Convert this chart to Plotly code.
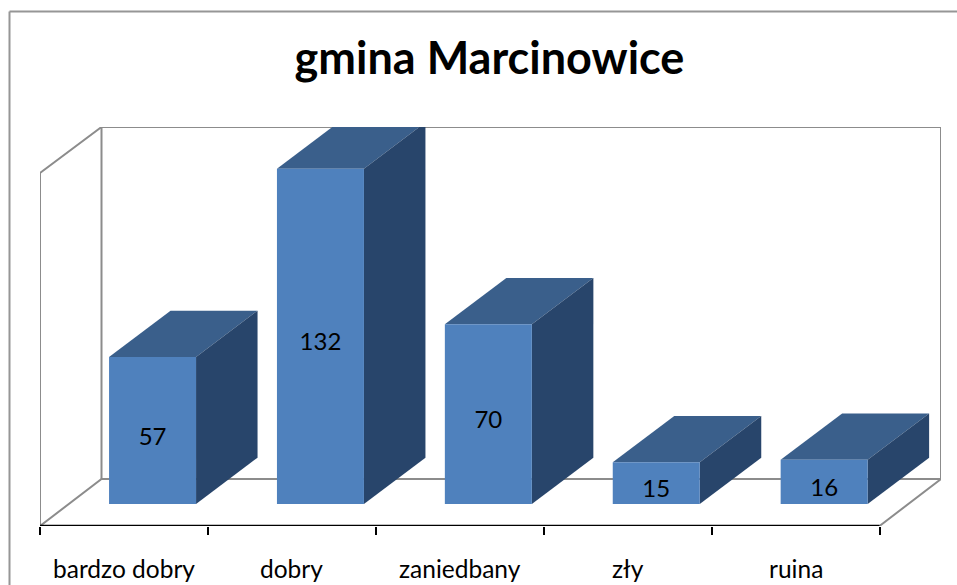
import plotly.graph_objects as go

categories = ["bardzo dobry", "dobry", "zaniedbany", "zły", "ruina"]
values = [57, 132, 70, 15, 16]
title = "gmina Marcinowice"

W, H = 957, 585
L, R = 40, 941          # plot area pixels in the window
T, B = 127, 526
CAT_W = 167.9           # px per category
PX_PER_UNIT = 2.51
ZERO_Y = 500.0          # pixel y of value 0 on the bar front plane
DX = 61.5 / CAT_W       # depth offset, category units
DY = 46.3 / PX_PER_UNIT # depth offset, value units
BAR_W = 87.0 / CAT_W
BAR_SHIFT = 28.6 / CAT_W
BASE = -(504 - ZERO_Y) / PX_PER_UNIT
FRONT = "#4f81bd"
TOP = "#3a5f8b"
SIDE = "#28456b"
WALL = "#8c8c8c"
FONT = "Lato"

y_low = (ZERO_Y - B) / PX_PER_UNIT
y_high = (ZERO_Y - T) / PX_PER_UNIT
x_high = (R - L) / CAT_W
n = len(categories)
floor_dy = (526 - 479) / PX_PER_UNIT
wall_top = y_low + (526 - 173) / PX_PER_UNIT

fig = go.Figure()

# walls and floor outline
wall_x = [0, 0, DX, x_high, x_high, n, None, DX, DX, None, 0, DX, x_high]
wall_y = [y_low, wall_top, y_high, y_high, y_low + floor_dy, y_low, None,
          y_high, y_low + floor_dy, None, y_low, y_low + floor_dy, y_low + floor_dy]
fig.add_trace(go.Scatter(x=wall_x, y=wall_y, mode="lines", hoverinfo="skip",
                         line=dict(color=WALL, width=2), showlegend=False, cliponaxis=False))

centers = [i + 0.5 + BAR_SHIFT for i in range(n)]

# top, side and front faces
for c, v in zip(centers, values):
    x0, x1 = c - BAR_W / 2, c + BAR_W / 2
    fig.add_trace(go.Scatter(x=[x0, x1, x1 + DX, x0 + DX, x0], y=[v, v, v + DY, v + DY, v],
                             mode="lines", fill="toself", fillcolor=TOP, line=dict(width=0),
                             hoverinfo="skip", showlegend=False))
    fig.add_trace(go.Scatter(x=[x1, x1 + DX, x1 + DX, x1, x1],
                             y=[BASE, BASE + DY, v + DY, v, BASE],
                             mode="lines", fill="toself", fillcolor=SIDE, line=dict(width=0),
                             hoverinfo="skip", showlegend=False))
    fig.add_trace(go.Scatter(x=[x0, x1, x1, x0, x0], y=[BASE, BASE, v, v, BASE],
                             mode="lines", fill="toself", fillcolor=FRONT, line=dict(width=0),
                             showlegend=False, name=str(v)))

# value labels
fig.add_trace(go.Scatter(x=centers, y=[(v + BASE) / 2 - 3.2 for v in values],
                         text=[str(v) for v in values], mode="text",
                         textfont=dict(family=FONT, size=24, color="#000000"),
                         textposition="middle center", showlegend=False))

# category axis line
fig.add_trace(go.Scatter(x=[0, n], y=[y_low, y_low], mode="lines", cliponaxis=False, hoverinfo="skip",
                         line=dict(color="#000000", width=2.5), showlegend=False))

# category labels
for i, cat in enumerate(categories):
    fig.add_annotation(x=i + 0.5, y=(B - 568) / (B - T), xref="x", yref="paper",
                       text=cat, showarrow=False, xanchor="center", yanchor="middle",
                       font=dict(family=FONT, size=24.5, color="#000000"))

# chart frame: top and left edges run off the picture
fx0 = (9.5 - L) / (R - L)
fx1 = (W + 20 - L) / (R - L)
fy0 = (B - H - 20) / (B - T)
fy1 = (B - 11.5) / (B - T)
fig.add_shape(type="line", xref="paper", yref="paper", layer="below",
              x0=fx0, x1=fx1, y0=fy1, y1=fy1, line=dict(color="#969696", width=2))
fig.add_shape(type="line", xref="paper", yref="paper", layer="below",
              x0=fx0, x1=fx0, y0=fy0, y1=fy1, line=dict(color="#969696", width=2))

fig.update_layout(
    width=W, height=H, autosize=False,
    margin=dict(l=L, r=W - R, t=T, b=H - B, pad=0),
    paper_bgcolor="#ffffff", plot_bgcolor="rgba(0,0,0,0)",
    showlegend=False,
    title=dict(text="<b>" + title + "</b>", x=489.5 / W, xanchor="center",
               y=1 - 58 / H, yanchor="middle",
               font=dict(family=FONT, size=45, color="#000000")),
    xaxis=dict(range=[0, x_high], tickmode="array", tickvals=list(range(n + 1)),
               ticktext=[""] * (n + 1), ticks="outside", ticklen=8, tickwidth=2, tickcolor="#000000",
               showgrid=False, zeroline=False, showline=False, fixedrange=True),
    yaxis=dict(range=[y_low, y_high], showticklabels=False, ticks="", showgrid=False,
               zeroline=False, showline=False, fixedrange=True),
)

fig.write_html("out.html", config={"displayModeBar": False},
               post_script="document.body.style.margin='0';document.documentElement.style.overflow='hidden';")
